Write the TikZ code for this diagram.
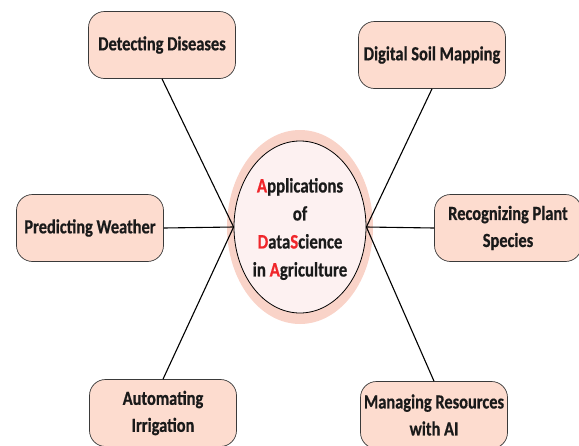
\documentclass[tikz,border=0pt]{standalone}
\usepackage{fontspec}
\setmainfont[FakeStretch=0.82, BoldFeatures={FakeBold=0.6}]{Carlito}
\usetikzlibrary{shapes.geometric}
\definecolor{boxfill}{HTML}{FDDCCF}
\definecolor{boxline}{HTML}{3A3A3A}
\definecolor{halo}{HTML}{F9D3C8}
\definecolor{corefill}{HTML}{FDF1F1}
\definecolor{accent}{HTML}{F0262B}
\definecolor{ink}{HTML}{1A1A1A}
\tikzset{
  topic/.style={draw=boxline, line width=0.7pt, fill=boxfill, rounded corners=16pt,
    minimum width=147pt, minimum height=67pt, align=center, text=ink,
    font=\bfseries\fontsize{20}{27}\selectfont, inner sep=2pt},
  spoke/.style={line width=1.1pt, black},
}
\newcommand{\rd}[1]{\textcolor{accent}{#1}}
\begin{document}
\begin{tikzpicture}[x=1pt,y=-1pt]
  \useasboundingbox (0,0) rectangle (579,445);
  \clip (0,0) rectangle (579,445);
  % central hub
  \node[ellipse, fill=halo, minimum width=146pt, minimum height=194pt] (halo) at (300,227) {};
  \node[ellipse, draw=black, line width=0.8pt, fill=corefill, minimum width=132pt, minimum height=172pt,
        align=center, inner sep=0pt, text=ink, font=\bfseries\fontsize{20.5}{28}\selectfont] (hub) at (300,227) {};
  \node[align=center, text=ink, font=\bfseries\fontsize{20.5}{28}\selectfont] (title) at (300,229)
        {\rd{A}pplications\\of\\\rd{D}ata\rd{S}cience\\in \rd{A}griculture};
  \coordinate (jl) at (hub.west);
  \coordinate (jr) at (hub.east);
  % topic boxes
  \node[topic] (dis) at (162,45) {Detecting Diseases};
  \node[topic] (soil) at (432,55) {Digital Soil Mapping};
  \node[topic] (wea) at (90,228) {Predicting Weather};
  \node[topic] (plant) at (508,228) {Recognizing Plant\\Species};
  \node[topic] (irr) at (163,413) {Automating\\Irrigation};
  \node[topic] (res) at (434,415) {Managing Resources\\with AI};
  % spokes
  \draw[spoke] (dis.south) -- (jl);
  \draw[spoke] (wea.east) -- (jl);
  \draw[spoke] (irr.north) -- (jl);
  \draw[spoke] (soil.south) -- (jr);
  \draw[spoke] (plant.west) -- (jr);
  \draw[spoke] (res.north) -- (jr);
\end{tikzpicture}
\end{document}
